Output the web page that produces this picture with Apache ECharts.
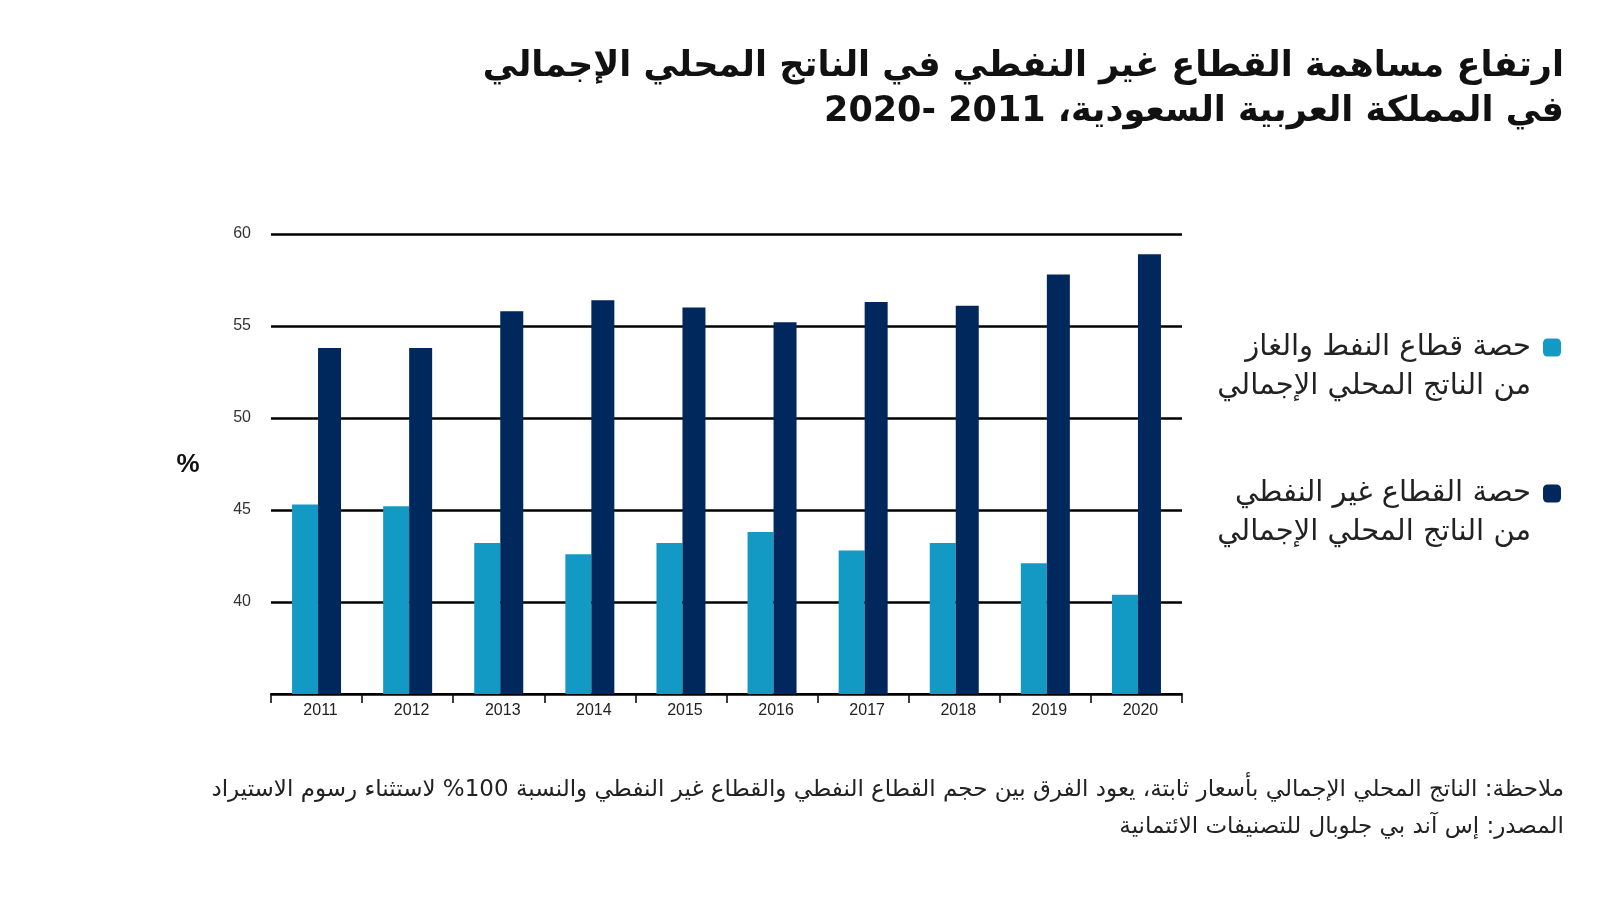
<!DOCTYPE html>
<html>
<head>
<meta charset="utf-8">
<script src="https://cdn.jsdelivr.net/npm/echarts@6/dist/echarts.min.js"></script>
<style>
html,body{margin:0;padding:0;background:#fff;}
#chart{width:1600px;height:900px;direction:rtl;}
</style>
</head>
<body>
<div id="chart"></div>
<script>
const years = ['2011','2012','2013','2014','2015','2016','2017','2018','2019','2020'];
const oilShare = [45.3, 45.2, 43.2, 42.6, 43.2, 43.8, 42.8, 43.2, 42.1, 40.4];
const nonOilShare = [53.8, 53.8, 55.8, 56.4, 56.0, 55.2, 56.3, 56.1, 57.8, 58.9];
const seriesNames = ['حصة قطاع النفط والغاز\nمن الناتج المحلي الإجمالي', 'حصة القطاع غير النفطي\nمن الناتج المحلي الإجمالي'];
const titleText = 'ارتفاع مساهمة القطاع غير النفطي في الناتج المحلي الإجمالي\nفي المملكة العربية السعودية، 2011 -2020';
const noteText = 'ملاحظة: الناتج المحلي الإجمالي بأسعار ثابتة، يعود الفرق بين حجم القطاع النفطي والقطاع غير النفطي والنسبة 100% لاستثناء رسوم الاستيراد\nالمصدر: إس آند بي جلوبال للتصنيفات الائتمانية';
const yTicks = [35, 40, 45, 50, 55, 60];

const AR = '"DejaVu Sans", sans-serif';
const LAT = '"Liberation Sans", Arial, sans-serif';

const chart = echarts.init(document.getElementById('chart'));
chart.setOption({
  animation: false,
  backgroundColor: '#ffffff',
  grid: { left: 271, right: 418, top: 234, bottom: 206, containLabel: false },
  xAxis: {
    type: 'category',
    data: years,
    axisLine: { lineStyle: { color: '#000', width: 2 } },
    axisTick: { show: true, length: 9, lineStyle: { color: '#000', width: 1.5 } },
    axisLabel: { color: '#222', fontSize: 16, fontFamily: LAT, margin: 9, padding: [0, 0, 0, 8] }
  },
  yAxis: {
    type: 'value',
    min: yTicks[0],
    max: yTicks[yTicks.length - 1],
    interval: 5,
    axisLine: { show: false },
    axisTick: { show: false },
    axisLabel: { color: '#333', fontSize: 16, fontFamily: LAT, margin: 20, showMinLabel: false },
    splitLine: { lineStyle: { color: '#000', width: 2.5 } }
  },
  legend: {
    orient: 'vertical',
    right: 34,
    top: 284,
    align: 'right',
    itemWidth: 18,
    itemHeight: 18,
    itemGap: 29,
    icon: 'roundRect',
    formatter: function (name) { return '\n' + name; },
    textStyle: { fontFamily: AR, fontSize: 29, color: '#222', lineHeight: 39, padding: [0, 7, 0, 0] },
    data: seriesNames
  },
  series: [
    { name: seriesNames[0], type: 'bar', data: oilShare, barWidth: 26, barGap: '0%', itemStyle: { color: '#139ac4' } },
    { name: seriesNames[1], type: 'bar', data: nonOilShare, barWidth: 23, barGap: '0%', itemStyle: { color: '#00285c' } }
  ],
  graphic: [
    { type: 'text', x: 1564, y: 44, style: { text: titleText, align: 'right', verticalAlign: 'top', font: 'bold 35px ' + AR, lineHeight: 45, fill: '#111' } },
    { type: 'text', x: 188, y: 465, style: { text: '%', align: 'center', verticalAlign: 'middle', font: 'bold 26px ' + LAT, fill: '#111' } },
    { type: 'text', x: 1564, y: 772, style: { text: noteText, align: 'right', verticalAlign: 'top', font: '23px ' + AR, lineHeight: 37, fill: '#222' } }
  ]
});
</script>
</body>
</html>
